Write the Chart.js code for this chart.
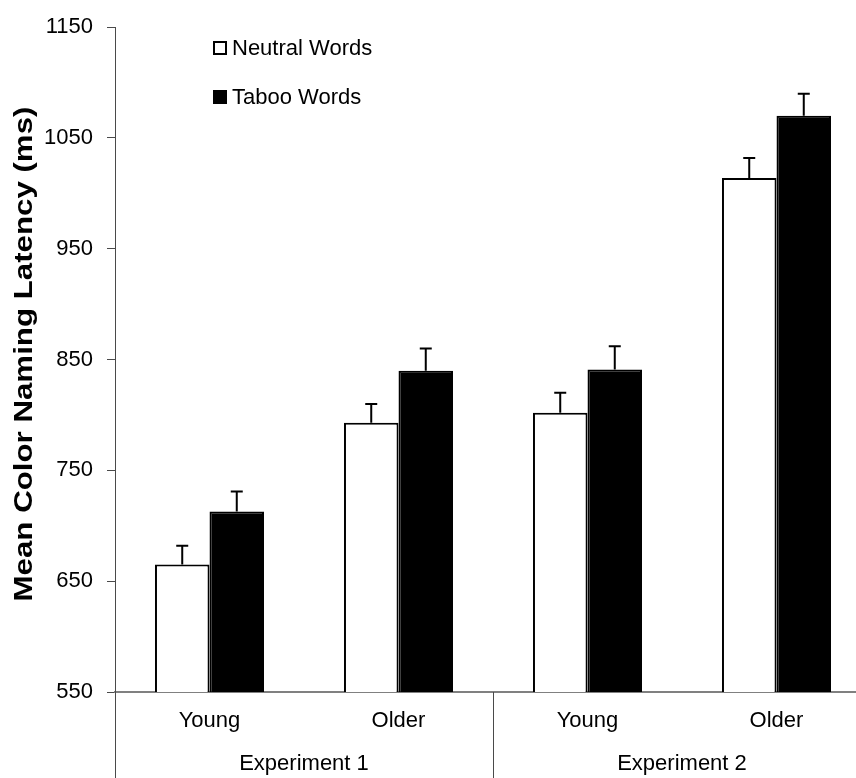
<!DOCTYPE html>
<html>
<head>
<meta charset="utf-8">
<script src="https://cdn.jsdelivr.net/npm/chart.js@4.4.1/dist/chart.umd.min.js"></script>
<style>
  html, body { margin: 0; padding: 0; background: #fff; overflow: hidden; }
  #wrap { width: 856px; height: 778px; overflow: hidden; }
</style>
</head>
<body>
<div id="wrap"><canvas id="c" width="871" height="778"></canvas></div>
<script>
// Mean colour-naming latency (ms) by age group and word type
const categories = ['Young', 'Older', 'Young', 'Older'];
const experiments = ['Experiment 1', 'Experiment 2'];
const neutralMeans = [665, 793, 802, 1014];
const tabooMeans = [713, 840, 841, 1070];
const neutralErrors = [17, 17, 18, 18];
const tabooErrors = [18, 20, 21, 20];
const yTicks = [550, 650, 750, 850, 950, 1050, 1150];
const yTitle = 'Mean Color Naming Latency (ms)';

const FONT = "'Liberation Sans', Arial, sans-serif";
const AXIS_DARK = '#4a4a4a';
const AXIS_GRAY = '#808080';

// error bars, legend, axis title, experiment labels and group separators
const decorations = {
  id: 'decorations',
  afterDatasetsDraw(chart) {
    const { ctx, scales: { y } } = chart;
    ctx.save();
    ctx.strokeStyle = '#000';
    ctx.lineWidth = 2;
    chart.data.datasets.forEach((ds, di) => {
      chart.getDatasetMeta(di).data.forEach((bar, i) => {
        const top = y.getPixelForValue(ds.data[i]);
        const tip = y.getPixelForValue(ds.data[i] + ds.errors[i]);
        ctx.beginPath();
        ctx.moveTo(bar.x, top);
        ctx.lineTo(bar.x, tip);
        ctx.moveTo(bar.x - 6, tip);
        ctx.lineTo(bar.x + 6, tip);
        ctx.stroke();
      });
    });
    ctx.restore();
  },
  afterDraw(chart) {
    const { ctx, chartArea, scales: { x } } = chart;
    const half = (x.getPixelForValue(1) - x.getPixelForValue(0)) / 2;
    const bottom = chart.height;

    // vertical separators below the category axis
    ctx.save();
    ctx.strokeStyle = AXIS_DARK;
    ctx.lineWidth = 1;
    const bounds = [];
    for (let g = 0; g <= experiments.length; g++) {
      const px = g < experiments.length
        ? x.getPixelForValue(g * 2) - half
        : x.getPixelForValue(g * 2 - 1) + half;
      bounds.push(px);
      const sx = Math.round(px) + 0.5;
      ctx.beginPath();
      ctx.moveTo(sx, chartArea.bottom);
      ctx.lineTo(sx, bottom);
      ctx.stroke();
    }

    // experiment labels
    ctx.fillStyle = '#000';
    ctx.font = '22px ' + FONT;
    ctx.textAlign = 'center';
    ctx.textBaseline = 'alphabetic';
    experiments.forEach((name, g) => {
      ctx.fillText(name, (bounds[g] + bounds[g + 1]) / 2, 770);
    });

    // legend
    ctx.textAlign = 'left';
    const legendX = 213, rows = [55, 104];
    chart.data.datasets.forEach((ds, di) => {
      const base = rows[di];
      ctx.fillStyle = ds.backgroundColor;
      ctx.fillRect(legendX, base - 14, 14, 14);
      ctx.strokeStyle = '#000';
      ctx.lineWidth = 2;
      ctx.strokeRect(legendX + 1, base - 13, 12, 12);
      ctx.fillStyle = '#000';
      ctx.fillText(ds.label, legendX + 19, base);
    });

    // rotated value-axis title, slightly stretched along its baseline
    ctx.save();
    ctx.translate(25, 354);
    ctx.rotate(-Math.PI / 2);
    ctx.scale(1.25, 1);
    ctx.font = 'bold 25px ' + FONT;
    ctx.textAlign = 'center';
    ctx.textBaseline = 'middle';
    ctx.fillStyle = '#000';
    ctx.fillText(yTitle, 0, 0);
    ctx.restore();

    ctx.restore();
  }
};

new Chart(document.getElementById('c'), {
  type: 'bar',
  data: {
    labels: categories,
    datasets: [
      {
        label: 'Neutral Words',
        data: neutralMeans,
        errors: neutralErrors,
        backgroundColor: '#ffffff',
        borderColor: '#000000',
        borderWidth: 2,
        borderSkipped: false
      },
      {
        label: 'Taboo Words',
        data: tabooMeans,
        errors: tabooErrors,
        backgroundColor: '#000000',
        borderColor: '#000000',
        borderWidth: 2,
        borderSkipped: false
      }
    ]
  },
  options: {
    responsive: false,
    animation: false,
    devicePixelRatio: 1,
    categoryPercentage: 0.577,
    barPercentage: 1.0,
    layout: { padding: { top: 25, right: 0, left: 0, bottom: 0 } },
    plugins: {
      legend: { display: false },
      tooltip: { enabled: false }
    },
    scales: {
      x: {
        offset: true,
        grid: { display: false, drawTicks: false },
        border: { display: true, color: AXIS_GRAY, width: 2 },
        ticks: {
          color: '#000',
          font: { family: FONT, size: 22 },
          padding: 16,
          maxRotation: 0
        },
        afterFit(scale) { scale.height = 86; }
      },
      y: {
        min: 550,
        max: 1150,
        afterBuildTicks(scale) { scale.ticks = yTicks.map(v => ({ value: v })); },
        grid: {
          drawOnChartArea: false,
          drawTicks: true,
          tickLength: 8,
          color: AXIS_DARK
        },
        border: { display: true, color: AXIS_DARK, width: 1 },
        ticks: {
          color: '#000',
          font: { family: FONT, size: 22 },
          padding: 14,
          callback: (v) => String(v)
        },
        title: { display: false },
        afterFit(scale) { scale.width = 115; }
      }
    }
  },
  plugins: [decorations]
});
</script>
</body>
</html>
